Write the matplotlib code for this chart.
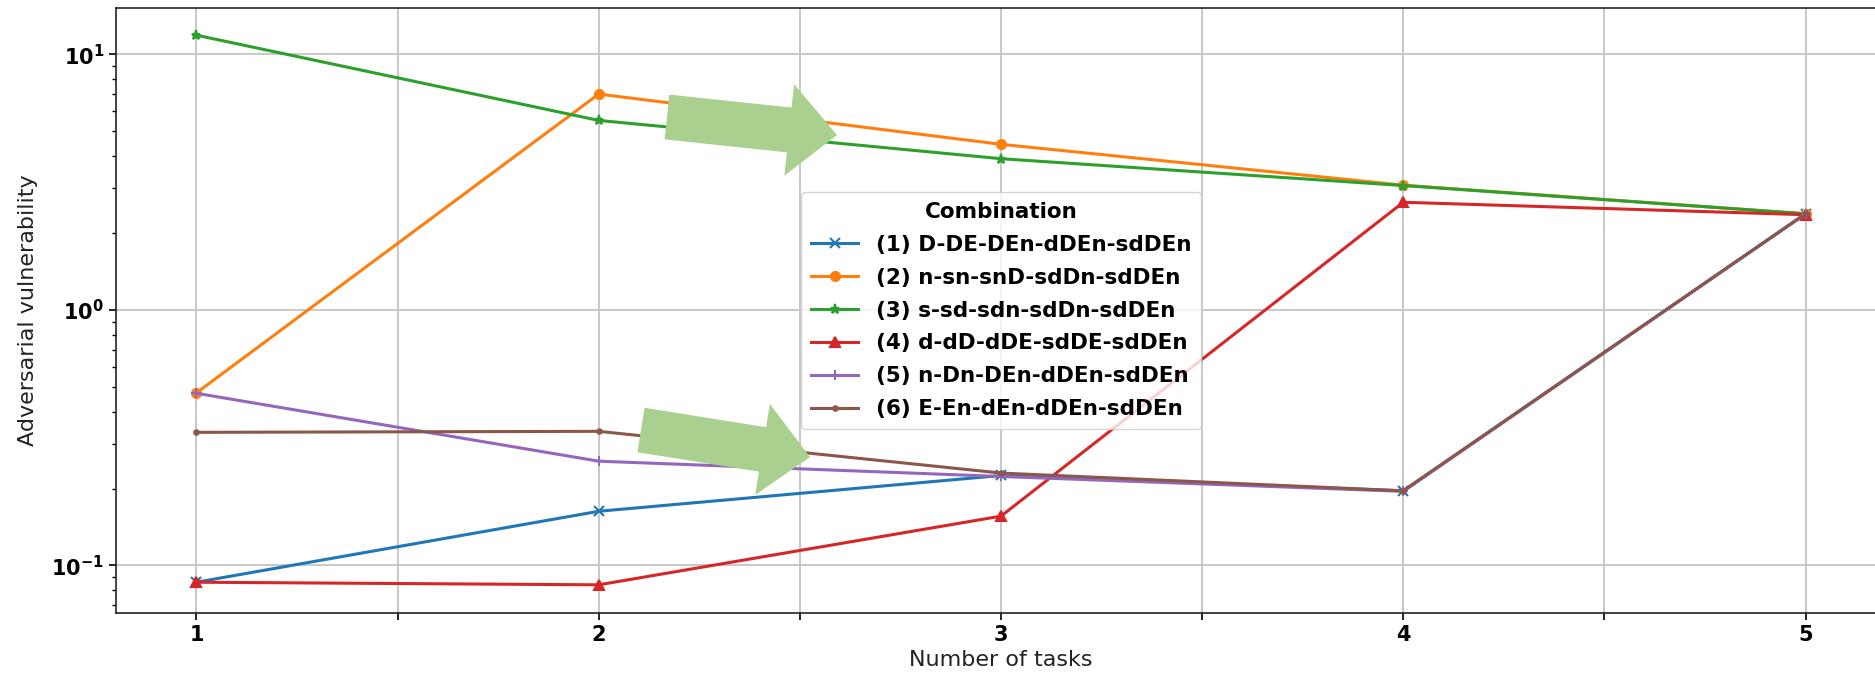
import numpy as np
import matplotlib
matplotlib.use("Agg")
import matplotlib.pyplot as plt
from matplotlib.patches import Polygon
from matplotlib.ticker import FixedLocator, FuncFormatter
from matplotlib.transforms import IdentityTransform

# Number of tasks on the x axis
tasks = [1, 2, 3, 4, 5]

# Adversarial vulnerability of each task-combination ordering
combo_labels = [
    "(1) D-DE-DEn-dDEn-sdDEn",
    "(2) n-sn-snD-sdDn-sdDEn",
    "(3) s-sd-sdn-sdDn-sdDEn",
    "(4) d-dD-dDE-sdDE-sdDEn",
    "(5) n-Dn-DEn-dDEn-sdDEn",
    "(6) E-En-dEn-dDEn-sdDEn",
]
vuln_1 = [0.086, 0.163, 0.225, 0.196, 2.38]
vuln_2 = [0.474, 7.00, 4.45, 3.08, 2.38]
vuln_3 = [11.9, 5.52, 3.91, 3.07, 2.38]
vuln_4 = [0.086, 0.084, 0.156, 2.64, 2.36]
vuln_5 = [0.472, 0.256, 0.223, 0.195, 2.38]
vuln_6 = [0.332, 0.335, 0.230, 0.196, 2.38]
series = [vuln_1, vuln_2, vuln_3, vuln_4, vuln_5, vuln_6]

colors = ["#1f77b4", "#ff7f0e", "#2ca02c", "#d62728", "#9467bd", "#8c564b"]
markers = ["x", "o", "*", "^", "+", "."]

W, H, DPI = 1875, 676, 100
fig = plt.figure(figsize=(W / DPI, H / DPI), dpi=DPI)
ax = fig.add_axes([116 / W, 1 - 613 / H, (1886 - 116) / W, (613 - 8) / H])

for vals, lab, c, m in zip(series, combo_labels, colors, markers):
    ax.plot(tasks, vals, color=c, marker=m, label=lab, linewidth=2.2,
            markersize=6.5, markeredgewidth=1.5)

ax.set_yscale("log")
ax.set_xlim(0.8, 5.2)
ax.set_ylim(10 ** -1.186, 10 ** 1.182)

# x ticks every half task, labelled only at whole numbers
ax.xaxis.set_major_locator(FixedLocator(np.arange(1, 5.01, 0.5)))
ax.xaxis.set_major_formatter(
    FuncFormatter(lambda v, p: f"{int(v)}" if abs(v - round(v)) < 1e-9 else ""))
ax.yaxis.set_major_formatter(
    FuncFormatter(lambda v, p: r"$\mathbf{10^{%d}}$" % round(np.log10(v))))

ax.tick_params(axis="both", which="major", labelsize=15, length=5, width=1.2)
ax.tick_params(axis="y", which="minor", length=3, width=1.0)
for lbl in ax.get_xticklabels():
    lbl.set_fontweight("bold")

ax.grid(True, which="major", color="#c8c8c8", linewidth=1.4)
ax.set_axisbelow(True)
for sp in ax.spines.values():
    sp.set_linewidth(1.2)
    sp.set_color("#222222")

ax.set_xlabel("Number of tasks", fontsize=16, color="#222222")
ax.set_ylabel("Adversarial vulnerability", fontsize=16, color="#222222",
              labelpad=10)

leg = ax.legend(title="Combination", loc="center",
                title_fontproperties={"weight": "bold", "size": 15.5},
                prop={"weight": "bold", "size": 15.5}, handlelength=2.2,
                handletextpad=0.8, borderpad=0.45, labelspacing=0.6)

# Green block arrows highlighting the trend (display pixels, image y from top)
def block_arrow(tail, tip, shaft_w, head_w, head_l, color="#a9d08e"):
    t = np.array([tail[0], H - tail[1]], float)
    p = np.array([tip[0], H - tip[1]], float)
    d = p - t
    L = np.hypot(*d)
    u = d / L
    n = np.array([-u[1], u[0]])
    b = p - u * head_l
    pts = [t + n * shaft_w / 2, b + n * shaft_w / 2, b + n * head_w / 2, p,
           b - n * head_w / 2, b - n * shaft_w / 2, t - n * shaft_w / 2]
    poly = Polygon(pts, closed=True, facecolor=color, edgecolor="none",
                   transform=IdentityTransform(), zorder=5)
    fig.patches.append(poly)
    poly.set_figure(fig)

block_arrow((667, 117), (837, 135), 45, 92, 48)
block_arrow((641, 430), (810, 457), 45, 92, 48)

fig.savefig("out.png", dpi=DPI)
